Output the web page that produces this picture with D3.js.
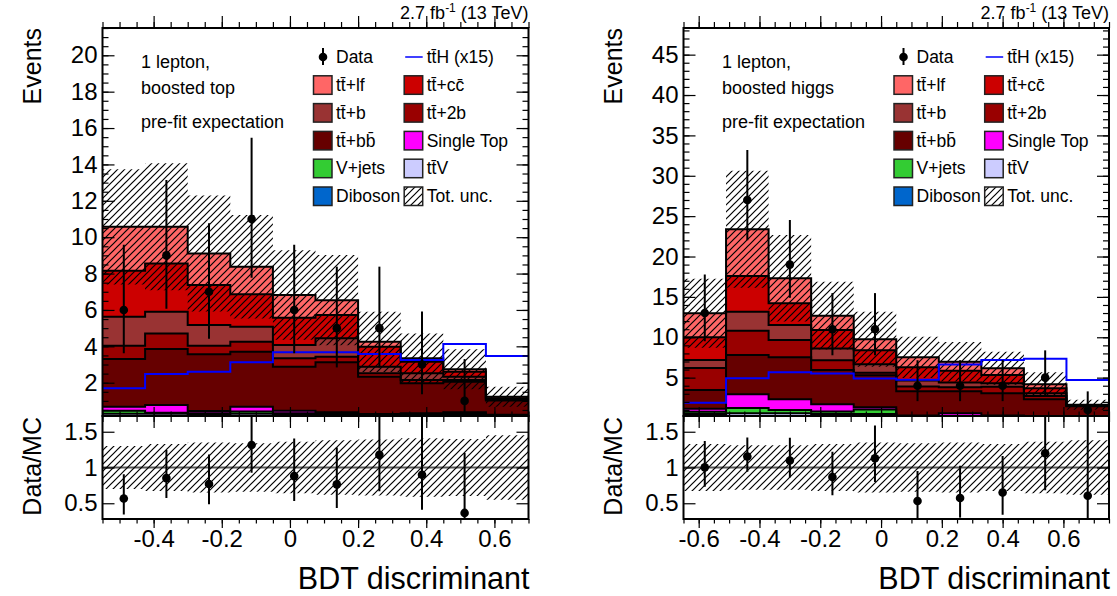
<!DOCTYPE html>
<html>
<head>
<meta charset="utf-8">
<script src="https://cdn.jsdelivr.net/npm/d3@7"></script>
<style>
  body { margin: 0; background: #fff; }
  svg { display: block; font-family: "Liberation Sans", Arial, Helvetica, sans-serif; }
</style>
</head>
<body>
<svg id="chart" width="1117" height="596"></svg>
<script>
// ---------------- data ----------------
// process order, bottom of the stack first
const processKeys = ["Diboson", "ttV", "Vjets", "SingleTop", "ttbb", "tt2b", "ttb", "ttcc", "ttlf"];

// 1 lepton, boosted top
const topEdges     = [-0.55, -0.425, -0.3, -0.175, -0.05, 0.075, 0.2, 0.325, 0.45, 0.575, 0.7];
const topDiboson   = [0.05, 0.05, 0.05, 0.05, 0.05, 0.05, 0.03, 0.03, 0.03, 0.02];
const topTtV       = [0.25, 0.25, 0.23, 0.25, 0.23, 0.20, 0.12, 0.15, 0.17, 0.10];
const topVjets     = [0.16, 0.05, 0.04, 0.12, 0.04, 0.05, 0.05, 0.06, 0.08, 0.06];
const topSingleTop = [0.22, 0.42, 0.13, 0.26, 0.14, 0.07, 0.08, 0.08, 0.09, 0.06];
const topTtbb      = [2.62, 3.08, 3.11, 3.02, 2.42, 2.75, 2.05, 1.65, 1.68, 0.78];
const topTt2b      = [0.73, 0.86, 0.47, 0.55, 0.46, 0.31, 0.19, 0.18, 0.10, 0.04];
const topTtb       = [1.60, 1.19, 1.14, 0.83, 0.73, 1.01, 0.36, 0.37, 0.18, 0.04];
const topTtcc      = [2.52, 2.66, 2.20, 1.79, 1.50, 1.28, 1.10, 0.63, 0.27, 0.05];
const topTtlf      = [2.42, 2.01, 1.74, 1.50, 1.25, 0.82, 0.27, 0.19, 0.14, 0.08];
const topRelUnc    = [0.30, 0.33, 0.35, 0.34, 0.36, 0.38, 0.39, 0.41, 0.40, 0.45];
const topTtH15     = [1.69, 2.48, 2.60, 3.12, 3.67, 3.67, 3.58, 3.25, 4.13, 3.47];
const topData      = [6, 9, 7, 11, 6, 5, 5, 3, 1, 0];
const topDataErrLo = [2.38, 2.93, 2.58, 3.23, 2.38, 2.16, 2.16, 1.63, 0.83, 0];
const topDataErrHi = [3.58, 4.15, 3.77, 4.47, 3.58, 3.38, 3.38, 2.92, 2.30, 0];
const topYTicks    = [2, 4, 6, 8, 10, 12, 14, 16, 18, 20];

// 1 lepton, boosted higgs
const higgsEdges     = [-0.65, -0.51, -0.37, -0.23, -0.09, 0.05, 0.19, 0.33, 0.47, 0.61, 0.75];
const higgsDiboson   = [0.10, 0.10, 0.10, 0.10, 0.10, 0.05, 0.05, 0.05, 0.05, 0.05];
const higgsTtV       = [0.40, 0.50, 0.50, 0.40, 0.40, 0.15, 0.15, 0.15, 0.10, 0.10];
const higgsVjets     = [0.28, 0.65, 0.39, 0.30, 0.55, 0.05, 0.05, 0.05, 0.05, 0.05];
const higgsSingleTop = [0.37, 1.70, 1.34, 0.90, 0.27, 0.05, 0.33, 0.05, 0.05, 0.05];
const higgsTtbb      = [2.32, 4.86, 5.19, 4.25, 3.98, 3.00, 2.72, 2.76, 2.07, 1.20];
const higgsTt2b      = [2.73, 3.01, 2.15, 1.20, 0.32, 0.60, 0.50, 0.82, 0.41, 0.05];
const higgsTtb       = [1.00, 2.35, 1.85, 1.45, 1.03, 0.75, 0.60, 0.42, 0.33, 0.05];
const higgsTtcc      = [2.80, 4.43, 2.69, 2.30, 1.75, 1.65, 1.45, 1.03, 0.62, 0.07];
const higgsTtlf      = [2.97, 5.78, 3.10, 1.78, 1.35, 1.22, 1.13, 0.83, 0.49, 0.03];
const higgsRelUnc    = [0.33, 0.31, 0.31, 0.33, 0.35, 0.34, 0.35, 0.33, 0.36, 0.38];
const higgsTtH15     = [1.90, 4.92, 5.66, 5.50, 4.88, 4.75, 6.62, 7.19, 7.35, 4.71];
const higgsData      = [13, 27, 19, 11, 11, 4, 4, 4, 5, 1];
const higgsDataErrLo = [3.50, 5.00, 4.11, 3.23, 3.23, 1.91, 1.91, 1.91, 2.16, 0.83];
const higgsDataErrHi = [4.77, 6.18, 5.52, 4.47, 4.47, 3.16, 3.16, 3.16, 3.38, 2.30];
const higgsYTicks    = [5, 10, 15, 20, 25, 30, 35, 40, 45];

const xTickValues     = [-0.6, -0.4, -0.2, 0, 0.2, 0.4, 0.6];
const ratioTickValues = [0.5, 1, 1.5];

// ---------------- style ----------------
const fillColors = {
  Diboson: "#0066cc", ttV: "#ccccff", Vjets: "#33cc33", SingleTop: "#ff00ff",
  ttbb: "#660000", tt2b: "#990000", ttb: "#993333", ttcc: "#cc0000", ttlf: "#ff6666"
};
const TOP = 28, SPLIT = 416, BOTTOM = 519;
const LABEL_SIZE = 24;
const svg = d3.select("#chart");
const defs = svg.append("defs");

// diagonal hatch used for the total uncertainty band
const hatch = defs.append("pattern").attr("id", "hatch")
  .attr("patternUnits", "userSpaceOnUse").attr("width", 7).attr("height", 7);
hatch.append("path").attr("d", "M-1,1 l2,-2 M0,7 l7,-7 M6,8 l2,-2")
  .attr("stroke", "#000").attr("stroke-width", 1.2);

const TT = "t" + "t\u0304";

function drawPanel(p) {
  const g = svg.append("g");
  const nb = p.edges.length - 1;
  const x = d3.scaleLinear().domain([p.edges[0], p.edges[nb]]).range([p.x0, p.x1]);
  const y = d3.scaleLinear().domain(p.yDomain).range([SPLIT, TOP]);
  const yr = d3.scaleLinear().domain([0.28, 1.72]).range([BOTTOM, SPLIT]);

  defs.append("clipPath").attr("id", p.id + "-up").append("rect")
    .attr("x", p.x0).attr("y", TOP).attr("width", p.x1 - p.x0).attr("height", SPLIT - TOP);
  defs.append("clipPath").attr("id", p.id + "-lo").append("rect")
    .attr("x", p.x0).attr("y", SPLIT).attr("width", p.x1 - p.x0).attr("height", BOTTOM - SPLIT);

  const rows = d3.range(nb).map(i => {
    const r = {};
    processKeys.forEach((k, j) => { r[k] = p.series[j][i]; });
    return r;
  });
  const stacked = d3.stack().keys(processKeys)(rows);
  const totals = rows.map(r => d3.sum(processKeys, k => r[k]));

  // step outline points: two per bin
  const steps = (lo, hi) => d3.range(nb).flatMap(i => [
    { x: p.edges[i], lo: lo(i), hi: hi(i) },
    { x: p.edges[i + 1], lo: lo(i), hi: hi(i) }
  ]);

  const up = g.append("g").attr("clip-path", `url(#${p.id}-up)`);
  const areaUp = d3.area().x(d => x(d.x)).y0(d => y(d.lo)).y1(d => y(d.hi));
  const lineUp = d3.line().x(d => x(d.x)).y(d => y(d.hi));

  stacked.forEach(layer => {
    up.append("path").attr("d", areaUp(steps(i => layer[i][0], i => layer[i][1])))
      .attr("fill", fillColors[layer.key]).attr("stroke", "none");
  });
  stacked.forEach(layer => {
    up.append("path").attr("d", lineUp(steps(i => layer[i][0], i => layer[i][1])))
      .attr("fill", "none").attr("stroke", "#000").attr("stroke-width", 2);
  });

  // total uncertainty
  up.append("path")
    .attr("d", areaUp(steps(i => totals[i] * (1 - p.relUnc[i]), i => totals[i] * (1 + p.relUnc[i]))))
    .attr("fill", "url(#hatch)");

  // ttH signal x15
  up.append("path").attr("d", lineUp(steps(i => 0, i => p.tth[i])))
    .attr("fill", "none").attr("stroke", "#0000ff").attr("stroke-width", 2);

  // data
  const centers = d3.range(nb).map(i => (p.edges[i] + p.edges[i + 1]) / 2);
  const dataIdx = d3.range(nb).filter(i => p.data[i] > 0);
  up.selectAll("line.err").data(dataIdx).join("line")
    .attr("x1", i => x(centers[i])).attr("x2", i => x(centers[i]))
    .attr("y1", i => y(p.data[i] - p.errLo[i])).attr("y2", i => y(p.data[i] + p.errHi[i]))
    .attr("stroke", "#000").attr("stroke-width", 2);
  up.selectAll("circle").data(dataIdx).join("circle")
    .attr("cx", i => x(centers[i])).attr("cy", i => y(p.data[i])).attr("r", 4.3).attr("fill", "#000");

  // ratio panel
  const lo = g.append("g").attr("clip-path", `url(#${p.id}-lo)`);
  const areaLo = d3.area().x(d => x(d.x)).y0(d => yr(d.lo)).y1(d => yr(d.hi));
  lo.append("line").attr("x1", p.x0).attr("x2", p.x1).attr("y1", yr(1)).attr("y2", yr(1))
    .attr("stroke", "#555").attr("stroke-width", 2);
  lo.append("path").attr("d", areaLo(steps(i => 1 - p.relUnc[i], i => 1 + p.relUnc[i])))
    .attr("fill", "url(#hatch)");
  lo.selectAll("line.err").data(dataIdx).join("line")
    .attr("x1", i => x(centers[i])).attr("x2", i => x(centers[i]))
    .attr("y1", i => yr((p.data[i] - p.errLo[i]) / totals[i]))
    .attr("y2", i => yr((p.data[i] + p.errHi[i]) / totals[i]))
    .attr("stroke", "#000").attr("stroke-width", 2);
  lo.selectAll("circle").data(dataIdx).join("circle")
    .attr("cx", i => x(centers[i])).attr("cy", i => yr(p.data[i] / totals[i])).attr("r", 4.3).attr("fill", "#000");

  // axes: ticks point into the frame on all four sides
  const fmtX = d => String(+d.toFixed(1));
  const xMinor = x.ticks(25);
  const yMinor = y.ticks(p.minorCount);
  const tickAxis = (axis, tr, size, vals, labels) => {
    const a = g.append("g").attr("transform", tr)
      .call(axis.tickValues(vals).tickSizeInner(-size).tickSizeOuter(0)
        .tickFormat(labels || (() => "")));
    a.select(".domain").remove();
    a.selectAll("line").attr("stroke", "#000").attr("stroke-width", 1.2);
    return a;
  };
  // upper panel
  const yl = tickAxis(d3.axisLeft(y).tickPadding(5), `translate(${p.x0},0)`, 12, p.yTicks, d => d);
  tickAxis(d3.axisLeft(y), `translate(${p.x0},0)`, 6, yMinor);
  tickAxis(d3.axisRight(y), `translate(${p.x1},0)`, 12, p.yTicks);
  tickAxis(d3.axisRight(y), `translate(${p.x1},0)`, 6, yMinor);
  const xIn = xTickValues.filter(v => v >= p.edges[0] && v <= p.edges[nb]);
  tickAxis(d3.axisTop(x), `translate(0,${SPLIT})`, 12, xIn);
  tickAxis(d3.axisTop(x), `translate(0,${SPLIT})`, 6, xMinor);
  tickAxis(d3.axisBottom(x), `translate(0,${TOP})`, 12, xIn);
  tickAxis(d3.axisBottom(x), `translate(0,${TOP})`, 6, xMinor);
  // ratio panel
  const rl = tickAxis(d3.axisLeft(yr).tickPadding(5), `translate(${p.x0},0)`, 12, ratioTickValues, d => String(d));
  tickAxis(d3.axisRight(yr), `translate(${p.x1},0)`, 12, ratioTickValues);
  const xl = tickAxis(d3.axisTop(x).tickPadding(13), `translate(0,${BOTTOM})`, 9, xIn, fmtX);
  tickAxis(d3.axisTop(x), `translate(0,${BOTTOM})`, 4.5, xMinor);
  tickAxis(d3.axisBottom(x), `translate(0,${SPLIT})`, 9, xIn);
  tickAxis(d3.axisBottom(x), `translate(0,${SPLIT})`, 4.5, xMinor);

  [yl, rl].forEach(a => a.selectAll("text").attr("font-size", LABEL_SIZE).attr("fill", "#000")
    .attr("font-family", "Liberation Sans, Arial, sans-serif"));
  // bottom labels placed below the frame
  xl.selectAll("text").attr("font-size", LABEL_SIZE).attr("fill", "#000")
    .attr("font-family", "Liberation Sans, Arial, sans-serif")
    .attr("y", 28).attr("dy", 0);

  // frames
  [[TOP, SPLIT], [SPLIT, BOTTOM]].forEach(([a, b]) => {
    g.append("rect").attr("x", p.x0).attr("y", a).attr("width", p.x1 - p.x0).attr("height", b - a)
      .attr("fill", "none").attr("stroke", "#000").attr("stroke-width", 2);
  });

  // titles
  g.append("text").attr("transform", `translate(${p.x0 - 62},${TOP}) rotate(-90)`)
    .attr("text-anchor", "end").attr("font-size", 25).text("Events");
  g.append("text").attr("transform", `translate(${p.x0 - 62},${SPLIT + 1}) rotate(-90)`)
    .attr("text-anchor", "end").attr("font-size", 25).text("Data/MC");
  g.append("text").attr("x", p.x1 + 1).attr("y", 589).attr("text-anchor", "end")
    .attr("font-size", 30.5).text("BDT discriminant");

  const lumi = g.append("text").attr("x", p.x1).attr("y", 19).attr("text-anchor", "end").attr("font-size", 18);
  lumi.append("tspan").text("2.7 fb");
  lumi.append("tspan").attr("font-size", 12).attr("dy", -7).text("-1");
  lumi.append("tspan").attr("dy", 7).text(" (13 TeV)");

  p.notes.forEach((t, i) => {
    g.append("text").attr("x", p.x0 + 38.5).attr("y", [68, 93.5, 128][i])
      .attr("font-size", 18).text(t);
  });

  // legend
  const lg = g.append("g");
  const bx1 = p.x1 - 215, bx2 = p.x1 - 124.3;
  const rowY = i => 57 + i * 27.8;
  const entries = [
    { c: 0, r: 0, kind: "data", label: "Data" },
    { c: 1, r: 0, kind: "line", label: TT + "H (x15)" },
    { c: 0, r: 1, kind: "ttlf", label: TT + "+lf" },
    { c: 1, r: 1, kind: "ttcc", label: TT + "+cc\u0304" },
    { c: 0, r: 2, kind: "ttb", label: TT + "+b" },
    { c: 1, r: 2, kind: "tt2b", label: TT + "+2b" },
    { c: 0, r: 3, kind: "ttbb", label: TT + "+bb\u0304" },
    { c: 1, r: 3, kind: "SingleTop", label: "Single Top" },
    { c: 0, r: 4, kind: "Vjets", label: "V+jets" },
    { c: 1, r: 4, kind: "ttV", label: TT + "V" },
    { c: 0, r: 5, kind: "Diboson", label: "Diboson" },
    { c: 1, r: 5, kind: "hatch", label: "Tot. unc." }
  ];
  entries.forEach(e => {
    const bx = e.c === 0 ? bx1 : bx2;
    const cy = rowY(e.r);
    if (e.kind === "data") {
      lg.append("line").attr("x1", bx + 9.5).attr("x2", bx + 9.5).attr("y1", cy - 9).attr("y2", cy + 8)
        .attr("stroke", "#000").attr("stroke-width", 2);
      lg.append("circle").attr("cx", bx + 9.5).attr("cy", cy).attr("r", 4.3).attr("fill", "#000");
    } else if (e.kind === "line") {
      lg.append("line").attr("x1", bx + 1).attr("x2", bx + 18.5).attr("y1", cy).attr("y2", cy)
        .attr("stroke", "#0000ff").attr("stroke-width", 1.5);
    } else {
      lg.append("rect").attr("x", bx).attr("y", cy - 9).attr("width", 18.5).attr("height", 18.5)
        .attr("fill", e.kind === "hatch" ? "url(#hatch)" : fillColors[e.kind])
        .attr("stroke", "#222").attr("stroke-width", 1.5);
    }
    lg.append("text").attr("x", bx + 22.5).attr("y", cy + 6.2).attr("font-size", 17.5).text(e.label);
  });
}

drawPanel({
  id: "top", x0: 102.5, x1: 528.5, edges: topEdges,
  series: [topDiboson, topTtV, topVjets, topSingleTop, topTtbb, topTt2b, topTtb, topTtcc, topTtlf],
  relUnc: topRelUnc, tth: topTtH15, data: topData, errLo: topDataErrLo, errHi: topDataErrHi,
  yDomain: [0.17, 21.5], yTicks: topYTicks, minorCount: 40,
  notes: ["1 lepton,", "boosted top", "pre-fit expectation"]
});
drawPanel({
  id: "higgs", x0: 683.5, x1: 1109, edges: higgsEdges,
  series: [higgsDiboson, higgsTtV, higgsVjets, higgsSingleTop, higgsTtbb, higgsTt2b, higgsTtb, higgsTtcc, higgsTtlf],
  relUnc: higgsRelUnc, tth: higgsTtH15, data: higgsData, errLo: higgsDataErrLo, errHi: higgsDataErrHi,
  yDomain: [0.25, 48.3], yTicks: higgsYTicks, minorCount: 48,
  notes: ["1 lepton,", "boosted higgs", "pre-fit expectation"]
});
</script>
</body>
</html>
